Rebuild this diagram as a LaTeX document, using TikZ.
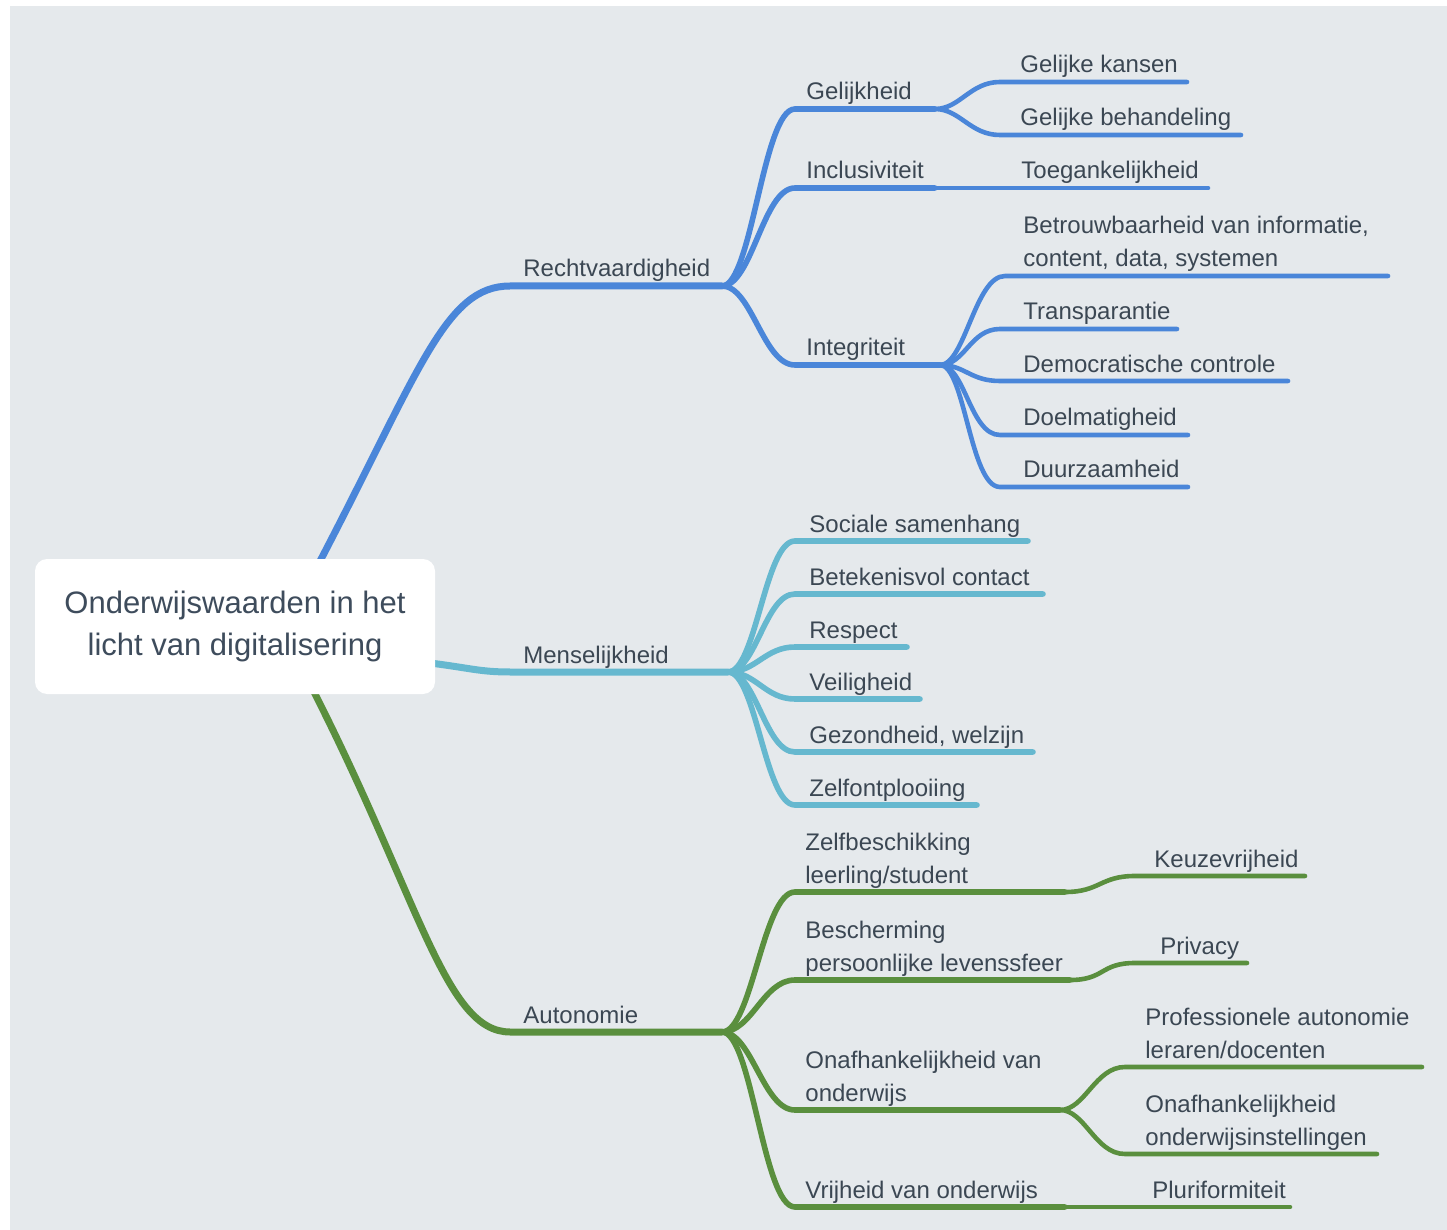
\documentclass[tikz,border=0pt]{standalone}
\usepackage{fontspec}
\setmainfont{Liberation Sans}
\definecolor{bgc}{HTML}{E5E9EC}
\definecolor{blu}{HTML}{4A86D9}
\definecolor{cya}{HTML}{66B8CF}
\definecolor{grn}{HTML}{5A8F3E}
\definecolor{txt}{HTML}{3B4753}
\definecolor{roottxt}{HTML}{3E4C5C}
\begin{document}
\begin{tikzpicture}[x=0.5pt,y=-0.5pt,
  lbl/.style={anchor=base west, inner sep=0pt, text=txt, align=left,
    font=\fontsize{12pt}{16.5pt}\selectfont},
  lA/.style={line width=3.5pt, line cap=round},
  lB/.style={line width=2.8pt, line cap=round},
  lC/.style={line width=2.3pt, line cap=round},
  rootbox/.style={fill=white, rounded corners=6pt, minimum width=200pt,
    minimum height=67.5pt, inner sep=0pt, align=center, text=roottxt,
    font=\fontsize{15.5pt}{21pt}\selectfont}
]
\useasboundingbox (0,0) rectangle (1447,1230);
\fill[white] (0,0) rectangle (1447,1230);
\fill[bgc] (10,6) rectangle (1447,1230);

% ---------- coordinates ----------
\coordinate (rN) at (318,565);
\coordinate (rE) at (430,663);
\coordinate (rS) at (312,688);
\coordinate (R1) at (510,286);  \coordinate (bR) at (722,286);
\coordinate (M1) at (510,672);  \coordinate (bM) at (728,672);
\coordinate (A1) at (510,1032); \coordinate (bA) at (722,1032);
% blue
\coordinate (gel1) at (795,109); \coordinate (bGel) at (935,109);
\coordinate (inc1) at (795,188); \coordinate (inc2) at (935,188);
\coordinate (int1) at (795,365); \coordinate (bInt) at (940,365);
\coordinate (gk1) at (1000,82);  \coordinate (gk2) at (1187,82);
\coordinate (gb1) at (1000,135); \coordinate (gb2) at (1241,135);
\coordinate (toe2) at (1208,188);
\coordinate (bt1) at (1005,276); \coordinate (bt2) at (1388,276);
\coordinate (tr1) at (1000,329); \coordinate (tr2) at (1177,329);
\coordinate (de1) at (1000,381); \coordinate (de2) at (1288,381);
\coordinate (do1) at (1000,435); \coordinate (do2) at (1188,435);
\coordinate (du1) at (1000,487); \coordinate (du2) at (1188,487);
% cyan
\coordinate (so1) at (795,541); \coordinate (so2) at (1028,541);
\coordinate (bk1) at (795,594); \coordinate (bk2) at (1043,594);
\coordinate (re1) at (795,647); \coordinate (re2) at (907,647);
\coordinate (ve1) at (795,699); \coordinate (ve2) at (920,699);
\coordinate (ge1) at (795,752); \coordinate (ge2) at (1033,752);
\coordinate (ze1) at (795,805); \coordinate (ze2) at (977,805);
% green
\coordinate (zb1) at (795,892);  \coordinate (zb2) at (1065,892);
\coordinate (kz1) at (1135,876); \coordinate (kz2) at (1305,876);
\coordinate (bs1) at (795,980);  \coordinate (bs2) at (1070,980);
\coordinate (pr1) at (1135,963); \coordinate (pr2) at (1247,963);
\coordinate (on1) at (795,1110); \coordinate (bOn) at (1060,1110);
\coordinate (pa1) at (1125,1067); \coordinate (pa2) at (1422,1067);
\coordinate (oi1) at (1125,1154); \coordinate (oi2) at (1377,1154);
\coordinate (vr1) at (795,1207); \coordinate (vr2) at (1065,1207);
\coordinate (pl2) at (1290,1207);

% ---------- blue ----------
\begin{scope}[draw=blu]
\draw[lA] (rN) .. controls (420,370) and (445,286) .. (R1) -- (bR);
\draw[lB] (bR) .. controls +(30,0) and +(-32,0) .. (gel1) -- (bGel);
\draw[lB] (bR) .. controls +(30,0) and +(-32,0) .. (inc1) -- (inc2);
\draw[lB] (bR) .. controls +(30,0) and +(-32,0) .. (int1) -- (bInt);
\draw[lC] (bGel) .. controls +(25,0) and +(-30,0) .. (gk1) -- (gk2);
\draw[lC] (bGel) .. controls +(25,0) and +(-30,0) .. (gb1) -- (gb2);
\draw[lC] (inc2) -- (toe2);
\draw[lC] (bInt) .. controls +(25,0) and +(-30,0) .. (bt1) -- (bt2);
\draw[lC] (bInt) .. controls +(25,0) and +(-30,0) .. (tr1) -- (tr2);
\draw[lC] (bInt) .. controls +(25,0) and +(-30,0) .. (de1) -- (de2);
\draw[lC] (bInt) .. controls +(25,0) and +(-30,0) .. (do1) -- (do2);
\draw[lC] (bInt) .. controls +(25,0) and +(-30,0) .. (du1) -- (du2);
\end{scope}

% ---------- cyan ----------
\begin{scope}[draw=cya]
\draw[lA] (rE) .. controls (470,668) and (480,672) .. (M1) -- (bM);
\foreach \a/\b in {so1/so2,bk1/bk2,re1/re2,ve1/ve2,ge1/ge2,ze1/ze2}
  \draw[lB] (bM) .. controls +(28,0) and +(-30,0) .. (\a) -- (\b);
\end{scope}

% ---------- green ----------
\begin{scope}[draw=grn]
\draw[lA] (rS) .. controls (420,900) and (445,1032) .. (A1) -- (bA);
\draw[lB] (bA) .. controls +(30,0) and +(-32,0) .. (zb1) -- (zb2);
\draw[lB] (bA) .. controls +(30,0) and +(-32,0) .. (bs1) -- (bs2);
\draw[lB] (bA) .. controls +(30,0) and +(-32,0) .. (on1) -- (bOn);
\draw[lB] (bA) .. controls +(30,0) and +(-32,0) .. (vr1) -- (vr2);
\draw[lC] (zb2) .. controls +(35,0) and +(-35,0) .. (kz1) -- (kz2);
\draw[lC] (bs2) .. controls +(35,0) and +(-35,0) .. (pr1) -- (pr2);
\draw[lC] (bOn) .. controls +(25,0) and +(-30,0) .. (pa1) -- (pa2);
\draw[lC] (bOn) .. controls +(25,0) and +(-30,0) .. (oi1) -- (oi2);
\draw[lC] (vr2) -- (pl2);
\end{scope}

% ---------- root ----------
\node[rootbox] (root) at (235,626.5) {Onderwijswaarden in het\\licht van digitalisering};

% ---------- labels ----------
\node[lbl] (nR) at (523,277) {Rechtvaardigheid};
\node[lbl] (nM) at (523,663) {Menselijkheid};
\node[lbl] (nA) at (523,1023) {Autonomie};

\node[lbl] (nGel) at (806,100) {Gelijkheid};
\node[lbl] (nInc) at (806,179) {Inclusiviteit};
\node[lbl] (nInt) at (806,356) {Integriteit};
\node[lbl] (nGk) at (1020,73) {Gelijke kansen};
\node[lbl] (nGb) at (1020,126) {Gelijke behandeling};
\node[lbl] (nToe) at (1021,179) {Toegankelijkheid};
\node[lbl] (nBt) at (1023,267) {Betrouwbaarheid van informatie,\\content, data, systemen};
\node[lbl] (nTr) at (1023,320) {Transparantie};
\node[lbl] (nDe) at (1023,372) {Democratische controle};
\node[lbl] (nDo) at (1023,426) {Doelmatigheid};
\node[lbl] (nDu) at (1023,478) {Duurzaamheid};

\node[lbl] (nSo) at (809,532) {Sociale samenhang};
\node[lbl] (nBk) at (809,585) {Betekenisvol contact};
\node[lbl] (nRe) at (809,638) {Respect};
\node[lbl] (nVe) at (809,690) {Veiligheid};
\node[lbl] (nGe) at (809,743) {Gezondheid, welzijn};
\node[lbl] (nZe) at (809,796) {Zelfontplooiing};

\node[lbl] (nZb) at (805,883) {Zelfbeschikking\\leerling/student};
\node[lbl] (nBs) at (805,971) {Bescherming\\persoonlijke levenssfeer};
\node[lbl] (nOn) at (805,1101) {Onafhankelijkheid van\\onderwijs};
\node[lbl] (nVr) at (805,1198) {Vrijheid van onderwijs};
\node[lbl] (nKz) at (1154,867) {Keuzevrijheid};
\node[lbl] (nPr) at (1160,954) {Privacy};
\node[lbl] (nPa) at (1145,1058) {Professionele autonomie\\leraren/docenten};
\node[lbl] (nOi) at (1145,1145) {Onafhankelijkheid\\onderwijsinstellingen};
\node[lbl] (nPl) at (1152,1198) {Pluriformiteit};
\end{tikzpicture}
\end{document}
